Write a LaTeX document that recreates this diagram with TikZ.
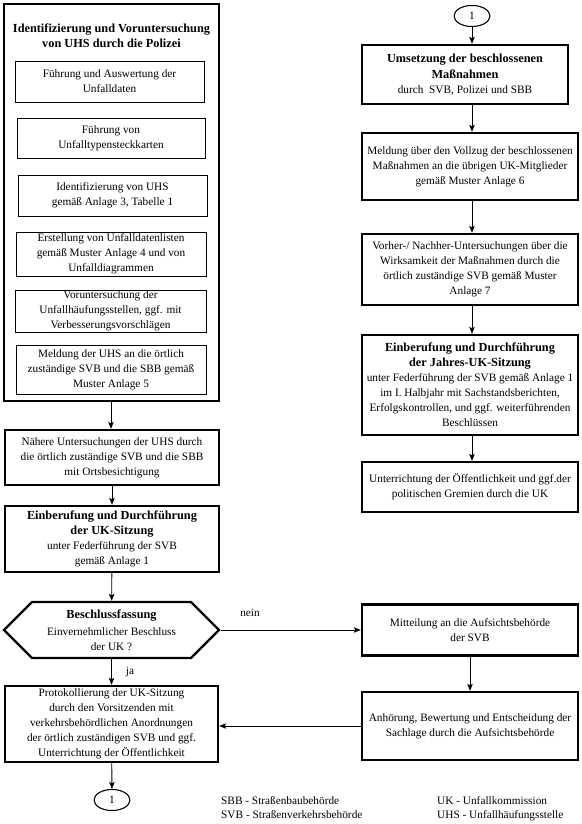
\documentclass[tikz,border=0pt]{standalone}
\usepackage{fontspec}
\setmainfont{Liberation Serif}
\usetikzlibrary{shapes.geometric,shapes.symbols,arrows.meta}
\newcommand{\hdtext}[1]{{\fontsize{12.3}{16}\selectfont\bfseries #1}}
\begin{document}
\begin{tikzpicture}[x=1pt,y=-1pt,
  txt/.style={font=\fontsize{11.3}{15}\selectfont, align=center, inner sep=0pt},
  thinbox/.style={draw, line width=0.9pt, txt},
  thickbox/.style={draw, line width=2.3pt, txt},
  oval/.style={draw, ellipse, line width=1.1pt, txt, minimum width=36pt, minimum height=21pt},
  conn/.style={line width=0.9pt, -{Stealth[length=7pt,width=5.5pt,inset=1.5pt]}},
  lbl/.style={txt, anchor=base west}]
\useasboundingbox (0,0) rectangle (581,824);

% left column
\node[thickbox, minimum width=215pt, minimum height=397pt] (outer) at (111.5,202.5) {};
\node[txt] (title) at (111.5,36) {\hdtext{Identifizierung und Voruntersuchung}\\\hdtext{von UHS durch die Polizei}};
\node[thinbox, minimum width=189pt, minimum height=41pt] (b1) at (109.5,81.5) {Führung und Auswertung der\\Unfalldaten};
\node[thinbox, minimum width=188pt, minimum height=40pt] (b2) at (111,138) {Führung von\\Unfalltypensteckkarten};
\node[thinbox, minimum width=189pt, minimum height=41pt] (b3) at (112.5,195.5) {Identifizierung von UHS\\gemäß Anlage 3, Tabelle 1};
\node[thinbox, minimum width=190pt, minimum height=44pt] (b4) at (111,254) {Erstellung von Unfalldatenlisten\\gemäß Muster Anlage 4 und von\\Unfalldiagrammen};
\node[thinbox, minimum width=191pt, minimum height=42pt] (b5) at (110.5,311) {Voruntersuchung der\\Unfallhäufungsstellen, ggf. mit\\Verbesserungsvorschlägen};
\node[thinbox, minimum width=190pt, minimum height=49pt] (b6) at (111,369.5) {Meldung der UHS an die örtlich\\zuständige SVB und die SBB gemäß\\Muster Anlage 5};

\node[thickbox, minimum width=214pt, minimum height=55pt] (naehere) at (112,457.5) {Nähere Untersuchungen der UHS durch\\die örtlich zuständige SVB und die SBB\\mit Ortsbesichtigung};
\node[thickbox, minimum width=214pt, minimum height=66pt] (einb) at (112,539) {\hdtext{Einberufung und Durchführung}\\\hdtext{der UK-Sitzung}\\unter Federführung der SVB\\gemäß Anlage 1};
\node[thickbox, shape=signal, signal to=west and east, signal pointer angle=90, minimum width=215pt, minimum height=56pt] (hex) at (111.5,630) {\hdtext{Beschlussfassung}\\[2pt]Einvernehmlicher Beschluss\\der UK ?};
\node[thickbox, minimum width=213pt, minimum height=76pt] (prot) at (111.5,724) {Protokollierung der UK-Sitzung\\durch den Vorsitzenden mit\\verkehrsbehördlichen Anordnungen\\der örtlich zuständigen SVB und ggf.\\Unterrichtung der Öffentlichkeit};
\node[oval] (c1b) at (112,800) {1};

% right column
\node[oval] (c1t) at (472,16) {1};
\node[thickbox, minimum width=206pt, minimum height=59pt] (ums) at (465,74.5) {\hdtext{Umsetzung der beschlossenen}\\[1pt]\hdtext{Maßnahmen}\\durch\ \ SVB, Polizei und SBB};
\node[thickbox, minimum width=216pt, minimum height=67pt] (meld) at (470,166.5) {Meldung über den Vollzug der beschlossenen\\Maßnahmen an die übrigen UK-Mitglieder\\gemäß Muster Anlage 6};
\node[thickbox, minimum width=216pt, minimum height=71pt] (vorher) at (470,269.5) {Vorher-/ Nachher-Untersuchungen über die\\Wirksamkeit der Maßnahmen durch die\\örtlich zuständige SVB gemäß Muster\\Anlage 7};
\node[thickbox, minimum width=216pt, minimum height=100pt] (jahres) at (470,385) {\hdtext{Einberufung und Durchführung}\\\hdtext{der Jahres-UK-Sitzung}\\unter Federführung der SVB gemäß Anlage 1\\im I. Halbjahr mit Sachstandsberichten,\\Erfolgskontrollen, und ggf. weiterführenden\\Beschlüssen};
\node[thickbox, minimum width=216pt, minimum height=50pt] (unter) at (470,487) {Unterrichtung der Öffentlichkeit und ggf.der\\politischen Gremien durch die UK};
\node[thickbox, minimum width=216pt, minimum height=51pt] (mitt) at (470,630) {Mitteilung an die Aufsichtsbehörde\\der SVB};
\node[thickbox, minimum width=216pt, minimum height=68pt] (anh) at (470,726) {Anhörung, Bewertung und Entscheidung der\\Sachlage durch die Aufsichtsbehörde};

% labels
\node[txt] (nein) at (250,613) {nein};
\node[txt] (ja) at (130,672) {ja};
\node[lbl] (lg1) at (221,804) {SBB - Straßenbaubehörde};
\node[lbl] (lg2) at (221,818) {SVB - Straßenverkehrsbehörde};
\node[lbl] (lg3) at (437,804) {UK - Unfallkommission};
\node[lbl] (lg4) at (437,818) {UHS - Unfallhäufungsstelle};

% connectors
\draw[conn] (outer.south -| b6) -- (naehere.north -| b6);
\draw[conn] (naehere) -- (einb);
\draw[conn] (einb) -- (hex);
\draw[conn] (hex.east) -- (mitt.west);
\draw[conn] (hex) -- (prot);
\draw[conn] (prot) -- (c1b);
\draw[conn] (c1t) -- (c1t |- ums.north);
\draw[conn] (ums.south -| c1t) -- (meld.north -| c1t);
\draw[conn] (meld.south -| c1t) -- (vorher.north -| c1t);
\draw[conn] (vorher.south -| c1t) -- (jahres.north -| c1t);
\draw[conn] (jahres.south -| c1t) -- (unter.north -| c1t);
\draw[conn] (mitt) -- (anh);
\draw[conn] (anh.west) -- (anh.west -| prot.east);
\end{tikzpicture}
\end{document}
